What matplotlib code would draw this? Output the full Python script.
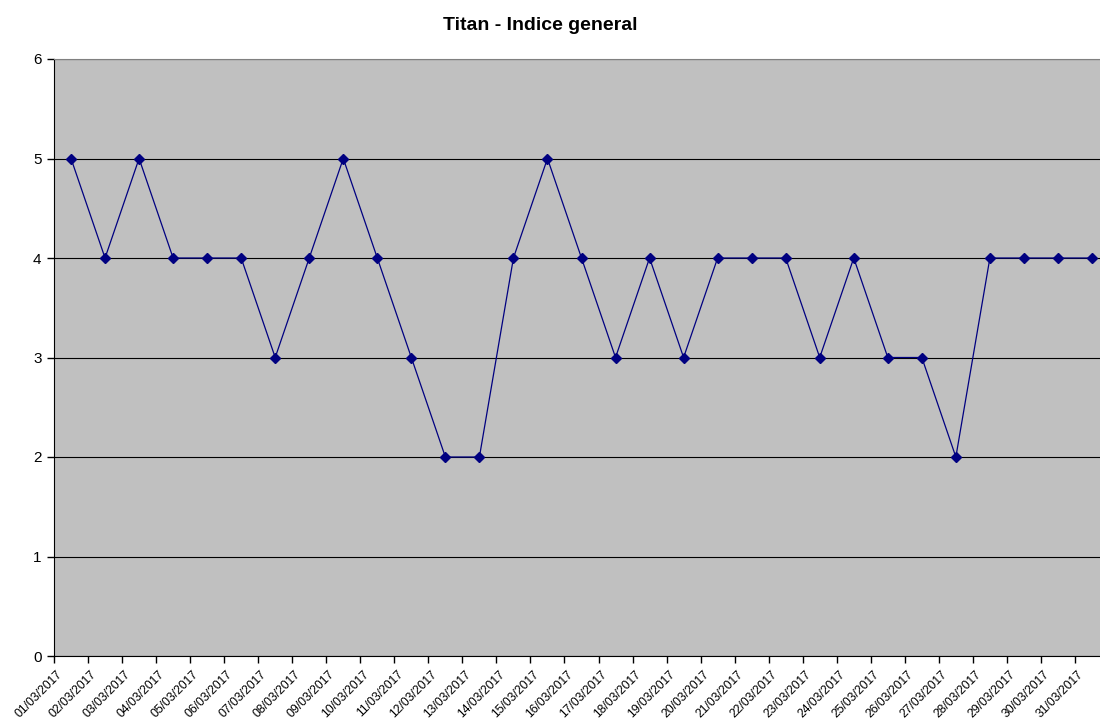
import matplotlib.pyplot as plt
import matplotlib.transforms as mtransforms

plt.rcParams['font.family'] = ['Liberation Sans', 'DejaVu Sans']

# daily values, March 2017
dates = ['%02d/03/2017' % d for d in range(1, 32)]
values = [5, 4, 5, 4, 4, 4, 3, 4, 5, 4, 3, 2, 2, 4, 5, 4,
          3, 4, 3, 4, 4, 4, 3, 4, 3, 3, 2, 4, 4, 4, 4]

fig = plt.figure(figsize=(11, 7.22), dpi=100)
# plot area runs slightly past the right edge, like the original export
ax = fig.add_axes([54 / 1100, 66 / 722, 1055 / 1100, 597 / 722])
ax.set_facecolor('#C0C0C0')

x = list(range(len(dates)))
ax.plot(x, values, color='#000080', linewidth=0.9, marker='D', markersize=5.5,
        markerfacecolor='#000080', markeredgecolor='#000080', zorder=3)

ax.set_xlim(-0.5, len(dates) - 0.5)
ax.set_ylim(0, 6)
ax.set_yticks(range(0, 7))
ax.yaxis.grid(True, color='black', linewidth=0.8)
ax.set_axisbelow(True)

# category labels at centres, tick marks at boundaries
ax.set_xticks(x)
ax.set_xticklabels(dates, rotation=45, ha='right', va='top', fontsize=8.8)
ax.set_xticks([i - 0.5 for i in range(len(dates) + 1)], minor=True)
ax.tick_params(axis='x', which='major', length=0, pad=9)
ax.tick_params(axis='x', which='minor', length=5, width=1, color='black', direction='out')
ax.tick_params(axis='y', length=5, width=1, direction='out', labelsize=11, pad=4)

shift = mtransforms.ScaledTranslation(-6 / 100, 0, fig.dpi_scale_trans)
for lbl in ax.get_xticklabels():
    lbl.set_transform(lbl.get_transform() + shift)

for side in ['top', 'right']:
    ax.spines[side].set_color('#808080')
for side in ['left', 'bottom']:
    ax.spines[side].set_color('black')

fig.text(540 / 1100, 1 - 30 / 722, 'Titan - Indice general', ha='center', va='baseline',
         fontsize=14, fontweight='bold')

fig.savefig('out.png', dpi=100)
